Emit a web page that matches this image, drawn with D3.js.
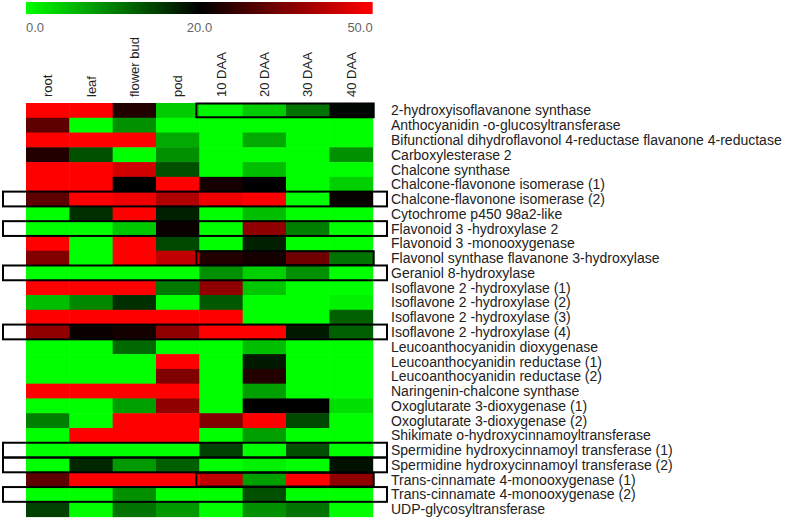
<!DOCTYPE html>
<html><head><meta charset="utf-8">
<script src="https://cdn.jsdelivr.net/npm/d3@7"></script>
<style>body{margin:0;background:#fff}svg{display:block}text{font-family:"Liberation Sans",Arial,sans-serif}</style>
</head><body><svg id="c" width="787" height="520"></svg>
<script>
const columns = ["root","leaf","flower bud","pod","10 DAA","20 DAA","30 DAA","40 DAA"];
const genes = [
"2-hydroxyisoflavanone synthase",
"Anthocyanidin -o-glucosyltransferase",
"Bifunctional dihydroflavonol 4-reductase flavanone 4-reductase",
"Carboxylesterase 2",
"Chalcone synthase",
"Chalcone-flavonone isomerase (1)",
"Chalcone-flavonone isomerase (2)",
"Cytochrome p450 98a2-like",
"Flavonoid 3 -hydroxylase 2",
"Flavonoid 3 -monooxygenase",
"Flavonol synthase flavanone 3-hydroxylase",
"Geraniol 8-hydroxylase",
"Isoflavone 2 -hydroxylase (1)",
"Isoflavone 2 -hydroxylase (2)",
"Isoflavone 2 -hydroxylase (3)",
"Isoflavone 2 -hydroxylase (4)",
"Leucoanthocyanidin dioxygenase",
"Leucoanthocyanidin reductase (1)",
"Leucoanthocyanidin reductase (2)",
"Naringenin-chalcone synthase",
"Oxoglutarate 3-dioxygenase (1)",
"Oxoglutarate 3-dioxygenase (2)",
"Shikimate o-hydroxycinnamoyltransferase",
"Spermidine hydroxycinnamoyl transferase (1)",
"Spermidine hydroxycinnamoyl transferase (2)",
"Trans-cinnamate 4-monooxygenase (1)",
"Trans-cinnamate 4-monooxygenase (2)",
"UDP-glycosyltransferase"];
// expression values, one array per gene, in column order
const values = [
[50,50,24,4,0.5,4,11,19.5],
[31,0,8.7,0,0,0,0,0],
[50,50,50,6.7,0,6.7,0,0],
[24,13.7,0,8.7,0,0,0,8.7],
[50,50,44.5,13.7,0,5,0,0],
[50,50,20,50,22.5,20,0,3.7],
[31,50,48,40.7,48,50,0,21],
[0,16.2,50,17.5,0,5,0,0],
[0,0,4.3,21.2,0,37,10,0],
[50,0,50,14.4,0,17.5,0,0],
[35,0,50,42.6,24,22.5,33,11],
[0,0,0,0,8.7,3.7,8.7,0],
[50,50,50,10.6,37,4.3,0,0],
[5,9.3,16.2,0,13,0,0,1],
[50,50,50,50,50,0,0,12.5],
[37,21,22.5,37,50,50,18,12.5],
[0,0,11.8,0,0,5,0,0],
[0,0,0,50,0,18,0,0],
[0,0,0,35,0,24,0,0],
[50,50,50,50,0,7.5,0,0],
[0,0,7.5,37,0,20,20,2.4],
[10,0,50,50,35,50,14.4,0],
[0,50,50,50,0,7.5,0,0],
[0,0,0,0,15,0,13.7,0],
[0,16.9,8,12.5,0,1,0,18.7],
[31,50,50,50,42.6,7.5,50,37],
[0,0,8.7,0,0,13.7,0,0],
[15,0,11,8,0,8.7,11,0]];
const legendTicks = [0,20,50];
// highlighted rows: full = whole row incl. label; partial = 10-40 DAA only
const fullBoxes = [6,8,11,15,23,24,26];
const partialBoxes = [0,10,25];

const svg = d3.select("#c");
const x = d3.scaleBand().domain(columns).range([26,372.7]);
const y = d3.scaleBand().domain(genes).range([103,516.6]);
const color = d3.scaleLinear().domain([0,20,50]).range(["#00ff00","#000000","#ff0000"]);

// legend
const defs = svg.append("defs");
const grad = defs.append("linearGradient").attr("id","lg");
grad.append("stop").attr("offset","0%").attr("stop-color",color(0));
grad.append("stop").attr("offset","50%").attr("stop-color",color(20));
grad.append("stop").attr("offset","100%").attr("stop-color",color(50));
svg.append("rect").attr("x",26).attr("y",2).attr("width",346.7).attr("height",12).attr("fill","url(#lg)");
const lx = d3.scaleLinear().domain([0,20,50]).range([26,199.5,372.7]);
svg.selectAll(".lt").data(legendTicks).join("text")
  .attr("x",d=>lx(d)).attr("y",32)
  .attr("text-anchor",(d,i)=>i===0?"start":(i===legendTicks.length-1?"end":"middle"))
  .attr("font-size",13).attr("fill","#666")
  .text(d=>d.toFixed(1));

// column labels
svg.selectAll(".cl").data(columns).join("text")
  .attr("transform",d=>`translate(${x(d)+x.bandwidth()/2+4.5},97) rotate(-90)`)
  .attr("font-size",13).attr("fill","#222").text(d=>d);

// cells
const cells = [];
genes.forEach((g,i)=>columns.forEach((c,j)=>cells.push({g,c,v:values[i][j]})));
svg.append("g").selectAll("rect").data(cells).join("rect")
  .attr("x",d=>x(d.c)).attr("y",d=>y(d.g))
  .attr("width",x.bandwidth()+0.5).attr("height",y.bandwidth()+0.5)
  .attr("fill",d=>color(d.v));

// row labels
svg.selectAll(".rl").data(genes).join("text")
  .attr("x",391).attr("y",d=>y(d)+y.bandwidth()/2).attr("dy","0.36em")
  .attr("font-size",14).attr("fill","#222").text(d=>d);

// boxes
svg.append("g").selectAll("rect").data(fullBoxes).join("rect")
  .attr("x",3).attr("y",i=>y(genes[i])).attr("width",384).attr("height",y.bandwidth())
  .attr("fill","none").attr("stroke","#000").attr("stroke-width",2);
svg.append("g").selectAll("rect").data(partialBoxes).join("rect")
  .attr("x",x("10 DAA")-3).attr("y",i=>y(genes[i])+0.5)
  .attr("width",x.range()[1]-x("10 DAA")+4).attr("height",y.bandwidth()-1)
  .attr("fill","none").attr("stroke","#000").attr("stroke-width",2);
</script></body></html>
